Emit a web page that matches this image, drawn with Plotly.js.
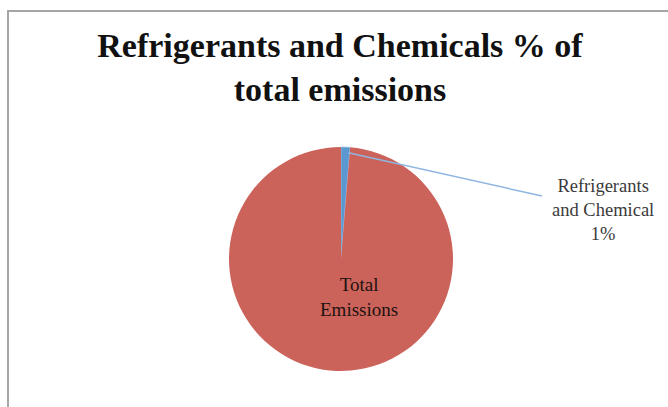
<!DOCTYPE html>
<html>
<head>
<meta charset="utf-8">
<script src="https://cdn.plot.ly/plotly-3.0.1.min.js"></script>
<style>
  html, body { margin: 0; padding: 0; background: #ffffff; }
  #chart { width: 668px; height: 407px; }
</style>
</head>
<body>
<div id="chart"></div>
<script>
// Emission shares, in percent
const sliceLabels = ['Refrigerants<br>and Chemical', 'Total<br>Emissions'];
const sliceValues = [1.3, 98.7];
const sliceColors = ['#5b97d1', '#cb635a'];

const W = 668, H = 407;
// Pie placement in pixels
const cx = 341, cy = 259, R = 112;

const total = sliceValues.reduce((a, b) => a + b, 0);
const pct = v => Math.round(v / total * 100) + '%';

// Mid angle of the small slice (clockwise from 12 o'clock)
const midDeg = (sliceValues[0] / total) * 360 / 2;
const midRad = midDeg * Math.PI / 180;
const startPx = { x: cx + 0.95 * R * Math.sin(midRad) + 3, y: cy - 0.95 * R * Math.cos(midRad) };
const endPx = { x: 542, y: 196 };

const px2x = p => p / W;
const px2y = p => 1 - p / H;

const trace = {
  type: 'pie',
  labels: sliceLabels,
  values: sliceValues,
  sort: false,
  direction: 'clockwise',
  rotation: 0,
  textinfo: 'none',
  hoverinfo: 'label+percent',
  marker: { colors: sliceColors, line: { color: ['#9cc0e6', '#cb635a'], width: [0.8, 0] } },
  domain: { x: [px2x(cx - R), px2x(cx + R)], y: [px2y(cy + R), px2y(cy - R)] },
  showlegend: false
};

const layout = {
  width: W,
  height: H,
  margin: { l: 0, r: 0, t: 0, b: 0 },
  paper_bgcolor: '#ffffff',
  plot_bgcolor: '#ffffff',
  title: {
    text: '<b>Refrigerants and Chemicals % of<br>total emissions</b>',
    font: { family: 'Liberation Serif, serif', size: 34, color: '#111111' },
    x: px2x(340), xanchor: 'center',
    y: px2y(57), yanchor: 'top', yref: 'container', xref: 'container'
  },
  shapes: [
    {
      type: 'rect', xref: 'paper', yref: 'paper',
      x0: px2x(8), x1: 1.05, y0: -0.05, y1: px2y(11),
      line: { color: '#a6a6a6', width: 2 }, fillcolor: 'rgba(0,0,0,0)'
    },
    {
      type: 'line', xref: 'paper', yref: 'paper',
      x0: px2x(startPx.x), y0: px2y(startPx.y),
      x1: px2x(endPx.x), y1: px2y(endPx.y),
      line: { color: '#8fb6e0', width: 1.5 }
    }
  ],
  annotations: [
    {
      xref: 'paper', yref: 'paper',
      x: px2x(603), y: px2y(210),
      xanchor: 'center', yanchor: 'middle',
      text: sliceLabels[0] + '<br>' + pct(sliceValues[0]),
      showarrow: false,
      font: { family: 'Liberation Serif, serif', size: 18.5, color: '#3a3a3a' }
    },
    {
      xref: 'paper', yref: 'paper',
      x: px2x(359), y: px2y(297),
      xanchor: 'center', yanchor: 'middle',
      text: sliceLabels[1],
      showarrow: false,
      font: { family: 'Liberation Serif, serif', size: 19, color: '#1e1212' }
    }
  ]
};

Plotly.newPlot('chart', [trace], layout, { displayModeBar: false, staticPlot: true });
</script>
</body>
</html>
